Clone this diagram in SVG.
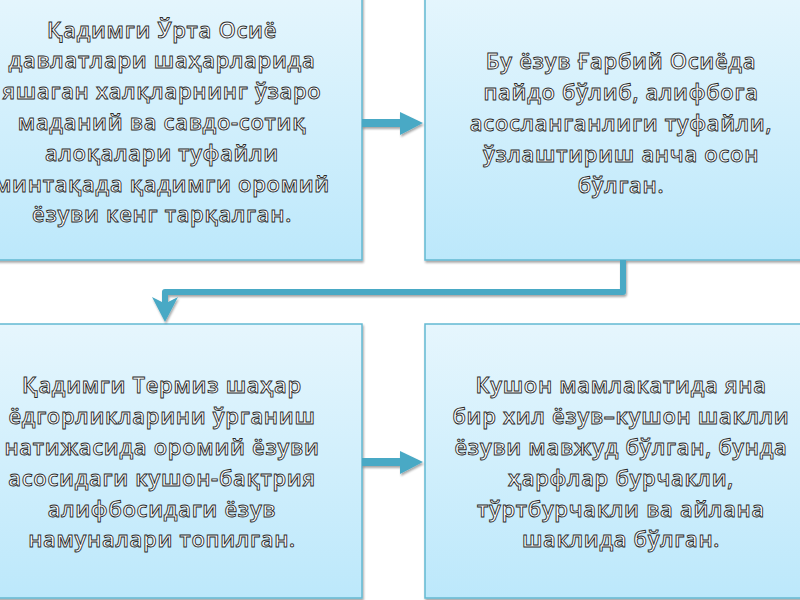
<svg xmlns="http://www.w3.org/2000/svg" width="800" height="600" viewBox="0 0 800 600">
<defs>
<linearGradient id="bg" x1="0" y1="0" x2="0" y2="1">
<stop offset="0" stop-color="#e6f6fd"/>
<stop offset="1" stop-color="#bce8fb"/>
</linearGradient>
<filter id="sh" x="-5%" y="-5%" width="110%" height="115%">
<feDropShadow dx="1" dy="2" stdDeviation="0.8" flood-color="#000" flood-opacity="0.35"/>
</filter>
</defs>
<style>
.box{fill:url(#bg);stroke:#63b9d2;stroke-width:1.5}
.t{font-family:"Open Sans","Noto Sans","DejaVu Sans",sans-serif;font-size:22px;font-weight:600;letter-spacing:0.7px;fill:#ffffff;stroke:#2a2a2a;stroke-width:0.9px;text-anchor:middle}
.ar{fill:#48a9c5}
.ln{fill:none;stroke:#48a9c5;stroke-width:6;stroke-linejoin:round}
</style>
<rect width="800" height="600" fill="#ffffff"/>
<g id="node1">
<rect class="box" x="-40" y="-14" width="402" height="274" filter="url(#sh)"/>
<text class="t"><tspan x="162" y="38">Қадимги Ўрта Осиё</tspan><tspan x="162" y="68">давлатлари шаҳарларида</tspan><tspan x="162" y="99">яшаган халқларнинг ўзаро</tspan><tspan x="162" y="130">маданий ва савдо-сотиқ</tspan><tspan x="162" y="161">алоқалари туфайли</tspan><tspan x="162" y="192">минтақада қадимги оромий</tspan><tspan x="162" y="222">ёзуви кенг тарқалган.</tspan></text>
</g>
<g id="node2">
<rect class="box" x="425" y="-14" width="402" height="274" filter="url(#sh)"/>
<text class="t"><tspan x="621" y="69">Бу ёзув Ғарбий Осиёда</tspan><tspan x="621" y="100">пайдо бўлиб, алифбога</tspan><tspan x="621" y="131">асосланганлиги туфайли,</tspan><tspan x="621" y="162">ўзлаштириш анча осон</tspan><tspan x="621" y="193">бўлган.</tspan></text>
</g>
<g id="node3">
<rect class="box" x="-40" y="324" width="402" height="274" filter="url(#sh)"/>
<text class="t"><tspan x="162" y="393">Қадимги Термиз шаҳар</tspan><tspan x="162" y="424">ёдгорликларини ўрганиш</tspan><tspan x="162" y="455">натижасида оромий ёзуви</tspan><tspan x="162" y="486">асосидаги кушон-бақтрия</tspan><tspan x="162" y="517">алифбосидаги ёзув</tspan><tspan x="162" y="547">намуналари топилган.</tspan></text>
</g>
<g id="node4">
<rect class="box" x="425" y="324" width="402" height="274" filter="url(#sh)"/>
<text class="t"><tspan x="621" y="393">Кушон мамлакатида яна</tspan><tspan x="621" y="424">бир хил ёзув–кушон шаклли</tspan><tspan x="621" y="455">ёзуви мавжуд бўлган, бунда</tspan><tspan x="621" y="486">ҳарфлар бурчакли,</tspan><tspan x="621" y="517">тўртбурчакли ва айлана</tspan><tspan x="621" y="547">шаклида бўлган.</tspan></text>
</g>
<g id="connectors" filter="url(#sh)">
<g id="c1"><rect class="ar" x="362" y="119" width="40" height="8"/><polygon class="ar" points="400,112 423,123 400,135"/></g>
<g id="c2"><path class="ln" d="M623 260 V292 H165 V302"/><polygon class="ar" points="152,297 162,302 168,302 178,297 165,322"/></g>
<g id="c3"><rect class="ar" x="362" y="458" width="40" height="8"/><polygon class="ar" points="400,451 423,462 400,474"/></g>
</g>
</svg>
